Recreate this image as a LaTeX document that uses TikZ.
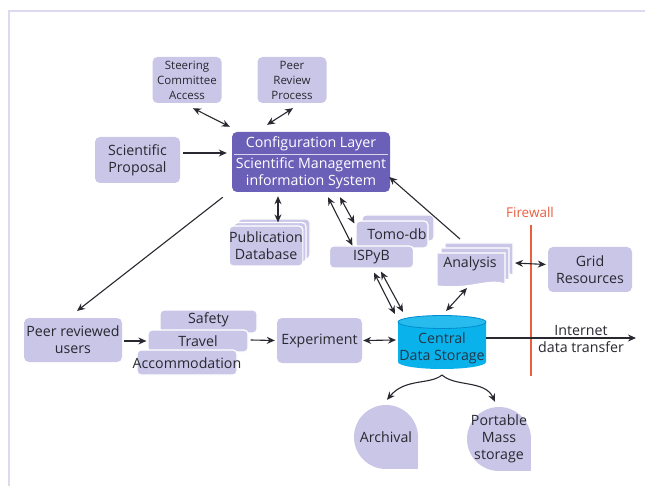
\documentclass[tikz,border=0pt]{standalone}
\usepackage{fontspec}
\setmainfont{Open Sans}
\usetikzlibrary{arrows.meta,calc}
\definecolor{lav}{RGB}{202,198,232}
\definecolor{cfg}{RGB}{106,96,184}
\definecolor{cyanA}{RGB}{10,178,236}
\definecolor{cyanB}{RGB}{0,140,205}
\definecolor{txt}{RGB}{40,40,48}
\definecolor{fire}{RGB}{235,95,65}
\definecolor{frame}{RGB}{220,218,240}
\tikzset{
  big/.style={font=\fontsize{14.2}{17}\selectfont},
  small/.style={font=\fontsize{11.5}{15}\selectfont},
  box/.style={rounded corners=5pt, fill=lav, text=txt, align=center, inner sep=0pt, big},
  layer/.style={rounded corners=4pt, fill=lav, draw=white, line width=1.2pt, text=txt, align=center, inner sep=0pt, big},
  conn/.style={draw=txt, line width=1.1pt},
  tip/.style={-{Stealth[length=8pt,width=7pt]}},
  dtip/.style={{Stealth[length=8pt,width=7pt]}-{Stealth[length=8pt,width=7pt]}},
  lbl/.style={text=txt, align=center, inner sep=0pt, big},
}
\begin{document}
\begin{tikzpicture}[x=1pt,y=-1pt]
\useasboundingbox (0,0) rectangle (645,486);
\fill[white] (0,0) rectangle (645,486);
% frame
\draw[frame, line width=2.5pt] (9,486) -- (9,11) -- (645,11);

% top boxes
\node[box, small, minimum width=69pt, minimum height=46pt] (steer) at (187,80) {Steering\\Committee\\Access};
\node[box, small, minimum width=69pt, minimum height=46pt] (peer) at (292,80) {Peer\\Review\\Process};
\node[box, minimum width=85pt, minimum height=46pt] (prop) at (137.5,160) {Scientific\\Proposal};

% configuration layer
\node[box, fill=cfg, minimum width=158pt, minimum height=60pt] (cfg) at (311,162) {};
\node[lbl, text=white] (cfgA) at (311,144) {Configuration Layer};
\node[lbl, text=white, font=\fontsize{14.2}{17.5}\selectfont] (cfgB) at (311,173.5) {Scientific Management\\information System};
\draw[white!75!cfg, line width=0.8pt] ([xshift=2pt,yshift=-23pt]cfg.north west) -- ([xshift=-2pt,yshift=-23pt]cfg.north east);

% publication database (stacked)
\path[layer] (238,219) rectangle (310,259);
\path[layer] (234,222.5) rectangle (306,262.5);
\node[layer, minimum width=72pt, minimum height=40pt] (pubbox) at (266,246) {Publication\\Database};

% Tomo-db and ISPyB
\path[layer] (362,215) rectangle (434,241);
\node[layer, minimum width=72pt, minimum height=27pt] (tomobox) at (392,234.5) {\hspace*{10pt}Tomo-db};
\node[layer, minimum width=84pt, minimum height=22pt] (ispyb) at (371.5,257) {ISPyB};

% Analysis (stacked documents with wavy bottom)
\fill[lav, draw=white, line width=1.2pt] (445,243) -- (513,243) -- (513,275) .. controls (495,269) and (480,281) .. (445,277) -- cycle;
\fill[lav, draw=white, line width=1.2pt] (441,248) -- (509,248) -- (509,280) .. controls (491,274) and (476,286) .. (441,282) -- cycle;
\fill[lav, draw=white, line width=1.2pt] (437,253) -- (505,253) -- (505,284) .. controls (487,278) and (472,290) .. (437,286) -- cycle;
\node[lbl] (ana) at (470,264) {Analysis};

% Grid resources
\node[box, minimum width=84pt, minimum height=45pt] (grid) at (590,269.5) {Grid\\Resources};

% Firewall
\node[text=fire, inner sep=0pt, font=\fontsize{13.5}{15}\selectfont] (fwl) at (530,212) {Firewall};
\coordinate (fwtop) at (531,225);
\coordinate (fwbot) at (531,376);
\draw[fire, line width=2.2pt] (fwtop) -- (fwbot);

% Bottom row
\node[box, minimum width=98pt, minimum height=44pt] (users) at (73,340) {Peer reviewed\\users};
\node[layer, minimum width=97pt, minimum height=23pt] (safety) at (208.5,321.5) {};
\node[lbl] at ([yshift=2pt]safety.center) {Safety};
\node[layer, minimum width=100pt, minimum height=22pt] (travel) at (198,341) {Travel};
\node[layer, minimum width=100pt, minimum height=25pt, text depth=0pt] (acc) at (187,362.5) {};
\node[lbl] at (187,363) {Accommodation};
\node[box, minimum width=85pt, minimum height=45pt] (exp) at (319.5,340.5) {Experiment};

% Central data storage cylinder
\fill[cyanA] (398,322) -- (398,362) arc[start angle=180, end angle=360, x radius=44pt, y radius=7pt] -- (486,322) -- cycle;
\fill[cyanA!88!white, draw=cyanB, line width=0.8pt] (442,322) ellipse[x radius=44pt, y radius=6.5pt];
\node[lbl, text=txt!85!cyanB] (cds) at (442,348.5) {Central\\Data Storage};
\coordinate (cdsN) at (442,315);
\coordinate (cdsL) at (396,340);
\coordinate (cdsR) at (486,338);
\coordinate (cdsB) at (442,375);

% Internet data transfer
\node[lbl] (inet) at (581,338.5) {Internet\\data transfer};
\coordinate (inetEnd) at (636,338);

% Archival / Portable
\node[circle, fill=lav, minimum size=64pt, inner sep=0pt] (arch) at (386,437) {};
\fill[lav] (arch.center) rectangle (arch.east |- arch.south);
\node[lbl] at (arch.center) {Archival};
\node[circle, fill=lav, minimum size=64pt, inner sep=0pt] (port) at (499,439) {};
\fill[lav] (port.center) rectangle (port.east |- port.south);
\node[lbl] at (port.center) {Portable\\Mass\\storage};

% connectors
\draw[conn, dtip] ([shift={(6pt,-5pt)}]steer.south) -- ([shift={(-2pt,5pt)}]cfg.north west);
\draw[conn, dtip] ([shift={(1pt,-5pt)}]peer.south) -- ([shift={(-44pt,7pt)}]cfg.north);
\draw[conn, tip] ([shift={(3pt,7pt)}]prop.east) -- ([shift={(-5pt,9pt)}]cfg.west);
\draw[conn, dtip] ([shift={(-33pt,-4pt)}]cfg.south) -- ([shift={(12pt,3pt)}]pubbox.north);
\draw[conn, dtip] ([shift={(17pt,-5pt)}]cfg.south) -- ([shift={(-3pt,3pt)}]tomobox.south west);
\draw[conn, dtip] ([shift={(29pt,-5pt)}]cfg.south) -- ([shift={(-1pt,11pt)}]tomobox.west);
\draw[conn, dtip] ([shift={(2.5pt,-4pt)}]ispyb.south) -- ([shift={(-47pt,1pt)}]cdsN);
\draw[conn, dtip] ([shift={(9.5pt,-3pt)}]ispyb.south) -- ([shift={(-39pt,3pt)}]cdsN);
\draw[conn, dtip] ([shift={(-3pt,-24pt)}]ana.center) -- ([shift={(4pt,4pt)}]cdsN);
\draw[conn, tip] ([shift={(-10pt,25pt)}]ana.center) -- ([shift={(-1pt,-15pt)}]cfg.east);
\draw[conn, tip] ([shift={(-9pt,-5pt)}]cfg.south west) -- ([shift={(4pt,29pt)}]users.center);
\draw[conn, dtip] ([shift={(45pt,1pt)}]ana.center) -- ([shift={(-2pt,5pt)}]grid.west);
\draw[conn, tip] ([shift={(2pt,-1pt)}]users.east) -- ([xshift=-1pt]travel.west);
\draw[conn, tip] ([shift={(2pt,1pt)}]travel.east) -- ([xshift=-2pt]exp.west);
\draw[conn, dtip] ([xshift=1pt]exp.east) -- (cdsL);
\draw[conn, tip] (cdsR) -- (inetEnd);
\draw[conn, tip] (cdsB) .. controls (430,385) and (405,378) .. ([shift={(1pt,5pt)}]arch.north);
\draw[conn, tip] (cdsB) .. controls (455,387) and (485,380) .. ([shift={(-4pt,5pt)}]port.north);
\end{tikzpicture}
\end{document}
